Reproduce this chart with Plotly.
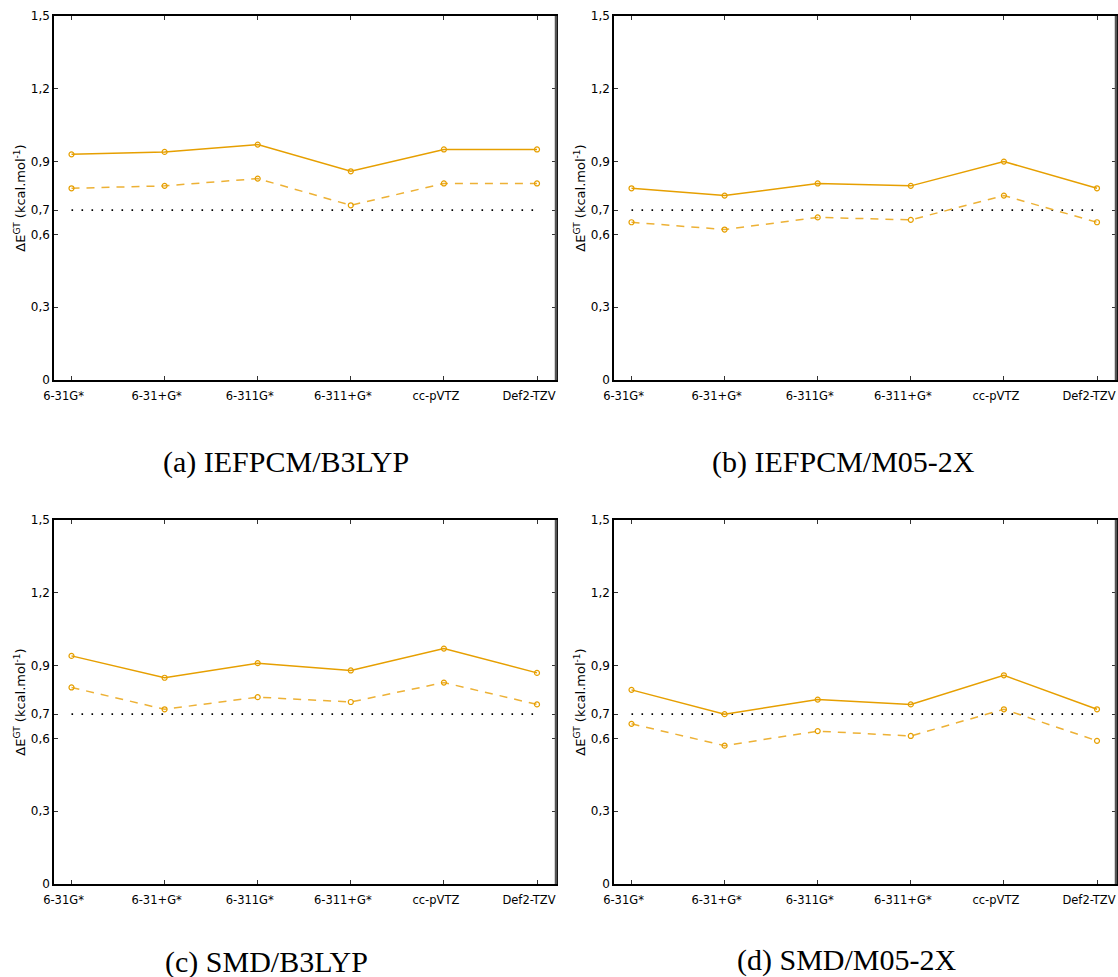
import plotly.graph_objects as go

W, H = 1118, 977

categories = ["6-31G*", "6-31+G*", "6-311G*", "6-311+G*", "cc-pVTZ", "Def2-TZV"]

a_solid = [0.93, 0.94, 0.97, 0.86, 0.95, 0.95]
a_dashed = [0.79, 0.80, 0.83, 0.72, 0.81, 0.81]
b_solid = [0.79, 0.76, 0.81, 0.80, 0.90, 0.79]
b_dashed = [0.65, 0.62, 0.67, 0.66, 0.76, 0.65]
c_solid = [0.94, 0.85, 0.91, 0.88, 0.97, 0.87]
c_dashed = [0.81, 0.72, 0.77, 0.75, 0.83, 0.74]
d_solid = [0.80, 0.70, 0.76, 0.74, 0.86, 0.72]
d_dashed = [0.66, 0.57, 0.63, 0.61, 0.72, 0.59]

reference_value = 0.7

y_tick_vals = [0, 0.3, 0.6, 0.7, 0.9, 1.2, 1.5]
y_tick_text = ["0", "0,3", "0,6", "0,7", "0,9", "1,2", "1,5"]

captions = ["(a) IEFPCM/B3LYP", "(b) IEFPCM/M05-2X", "(c) SMD/B3LYP", "(d) SMD/M05-2X"]

ORANGE = "#E69F00"
ORANGE_L = "#EDB135"

# panel pixel boxes: (left, right, top, bottom)
boxes = [(54, 556, 16, 380), (614, 1116, 16, 380), (54, 556, 520, 884), (614, 1116, 520, 884)]
caption_pos = [(286, 462), (843, 462), (266, 962), (847, 960)]
series = [(a_solid, a_dashed), (b_solid, b_dashed), (c_solid, c_dashed), (d_solid, d_dashed)]

fig = go.Figure()
xs = list(range(len(categories)))

for i, ((l, r, t, b), (sol, das)) in enumerate(zip(boxes, series)):
    n = "" if i == 0 else str(i + 1)
    xa, ya = "x" + n, "y" + n
    fig.add_trace(go.Scatter(x=[xs[0], xs[-1]], y=[reference_value, reference_value], mode="lines",
                             line=dict(color="black", width=1.6, dash="1.6px,8.4px"),
                             xaxis=xa, yaxis=ya, showlegend=False, hoverinfo="skip"))
    fig.add_trace(go.Scatter(x=xs, y=das, mode="lines+markers",
                             line=dict(color=ORANGE_L, width=1.5, dash="8px,7px"),
                             marker=dict(symbol="circle-open", size=5, color=ORANGE, line=dict(width=1.2, color=ORANGE)),
                             xaxis=xa, yaxis=ya, showlegend=False))
    fig.add_trace(go.Scatter(x=xs, y=sol, mode="lines+markers",
                             line=dict(color=ORANGE, width=1.5),
                             marker=dict(symbol="circle-open", size=5, color=ORANGE, line=dict(width=1.2, color=ORANGE)),
                             xaxis=xa, yaxis=ya, showlegend=False))

    xr = [-17.5 / 93.1, 5 + 19 / 93.1]
    fig.layout["xaxis" + n] = dict(
        domain=[l / W, r / W], anchor=ya, range=xr, automargin=False,
        tickmode="array", tickvals=xs, ticktext=categories,
        ticks="inside", ticklen=4, tickcolor="#333", tickwidth=1,
        ticklabeloverflow="allow", ticklabelshift=-8, ticklabelstandoff=4,
        showline=True, linecolor="black", linewidth=1.5, mirror="ticks",
        showgrid=False, zeroline=False,
        tickfont=dict(family="DejaVu Sans", size=11.5, color="black"),
    )
    fig.layout["yaxis" + n] = dict(
        domain=[1 - b / H, 1 - t / H], anchor=xa, range=[0, 1.5], automargin=False,
        tickmode="array", tickvals=y_tick_vals, ticktext=y_tick_text,
        ticks="inside", ticklen=4, tickcolor="#333", tickwidth=1,
        showline=True, linecolor="black", linewidth=1.5, mirror="ticks",
        showgrid=False, zeroline=False,
        tickfont=dict(family="DejaVu Sans", size=12, color="black"),
        title=dict(text="ΔE<sup>GT</sup> (kcal.mol<sup>-1</sup>)", standoff=2,
                   font=dict(family="DejaVu Sans", size=13, color="black")),
    )
    # darker right border
    fig.add_shape(type="line", xref="paper", yref="paper",
                  x0=r / W, x1=r / W, y0=1 - b / H, y1=1 - t / H,
                  line=dict(color="#555555", width=2.5))
    cx, cy = caption_pos[i]
    fig.add_annotation(text=captions[i], xref="paper", yref="paper",
                       x=cx / W, y=1 - cy / H, xanchor="center", yanchor="middle",
                       showarrow=False, font=dict(family="Liberation Serif", size=30, color="black"))

fig.update_layout(width=W, height=H, margin=dict(l=0, r=0, t=0, b=0, autoexpand=False),
                  paper_bgcolor="white", plot_bgcolor="white")

fig.write_html("out.html")
